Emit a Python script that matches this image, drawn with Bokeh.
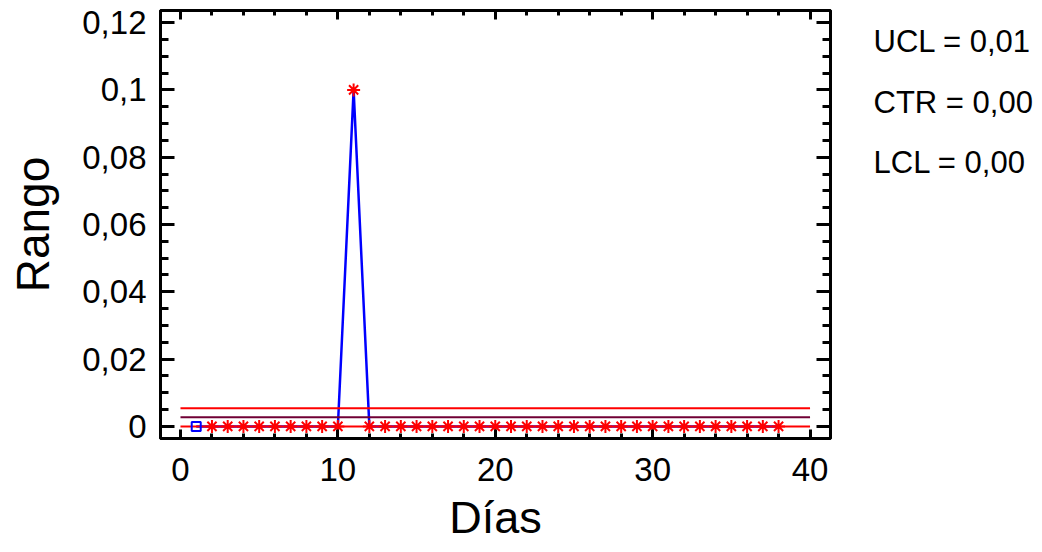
from bokeh.plotting import figure
from bokeh.layouts import row
from bokeh.models import LinearAxis, FixedTicker, CustomJSTickFormatter, Range1d, Title
from bokeh.core.properties import value
from bokeh.embed import file_html
from bokeh.resources import INLINE

# ---- data ----
days = list(range(1, 39))
ranges = [0, 0, 0, 0, 0, 0, 0, 0, 0, 0, 0.1, 0, 0, 0, 0, 0, 0, 0, 0, 0,
          0, 0, 0, 0, 0, 0, 0, 0, 0, 0, 0, 0, 0, 0, 0, 0, 0, 0]
limit_x = [0, 40]
ucl = 0.0054
ctr = 0.0027
lcl = 0.0
limit_texts = ["UCL = 0,01", "CTR = 0,00", "LCL = 0,00"]
x_title = "Días"
y_title = "Rango"
x_major = [0, 10, 20, 30, 40]
x_minor = list(range(0, 41, 2))
y_major = [0, 0.02, 0.04, 0.06, 0.08, 0.1, 0.12]
y_minor = [i * 0.005 for i in range(0, 25)]

FONT = "Liberation Sans"

p = figure(width=842, height=552, output_backend="svg", toolbar_location=None,
           x_range=Range1d(-1.27, 41.3), y_range=Range1d(-0.0036, 0.1236),
           min_border_left=160, min_border_right=12, min_border_top=10,
           min_border_bottom=114, x_axis_location=None, y_axis_location=None)
p.grid.visible = False
p.outline_line_color = "black"
p.outline_line_width = 3
p.background_fill_color = "white"
p.border_fill_color = "white"

fmt = CustomJSTickFormatter(code="return String(Math.round(tick*1000)/1000).replace('.', ',');")
blank = CustomJSTickFormatter(code="return '';")


def style(ax, major_in, minor_in):
    ax.axis_line_width = 3
    ax.axis_line_color = "black"
    ax.major_tick_in = major_in
    ax.major_tick_out = 0
    ax.minor_tick_in = minor_in
    ax.minor_tick_out = 0
    ax.major_tick_line_width = 3
    ax.minor_tick_line_width = 3
    ax.major_label_text_font = FONT
    ax.major_label_text_font_size = "33px"
    ax.major_label_text_color = "black"
    ax.axis_label_text_font = FONT
    ax.axis_label_text_font_size = "46px"
    ax.axis_label_text_font_style = "normal"
    ax.axis_label_text_color = "black"


xb = LinearAxis(ticker=FixedTicker(ticks=x_major, minor_ticks=x_minor), formatter=fmt)
style(xb, 9, 5)
xb.major_label_standoff = 19
p.add_layout(xb, "below")

# x-axis title stacked below the tick labels
p.add_layout(Title(text=x_title, align="center", text_font=FONT, text_font_size="45px",
                   text_font_style="normal", text_color="black", standoff=12,
                   text_line_height=0.7), "below")

xt = LinearAxis(ticker=FixedTicker(ticks=x_major, minor_ticks=x_minor), formatter=blank)
style(xt, 9, 5)
xt.major_label_text_font_size = "0px"
xt.major_label_standoff = 0
p.add_layout(xt, "above")

yl = LinearAxis(ticker=FixedTicker(ticks=y_major, minor_ticks=y_minor), formatter=fmt,
                axis_label=y_title)
style(yl, 14, 8)
yl.major_label_standoff = 14
yl.axis_label_standoff = 20
p.add_layout(yl, "left")

yr = LinearAxis(ticker=FixedTicker(ticks=y_major, minor_ticks=y_minor), formatter=blank)
style(yr, 14, 8)
yr.major_label_text_font_size = "0px"
yr.major_label_standoff = 0
p.add_layout(yr, "right")

# data line
p.line(days, ranges, line_color="blue", line_width=2.5)

# control limits
p.line(limit_x, [ucl, ucl], line_color="red", line_width=2)
p.line(limit_x, [ctr, ctr], line_color="#700035", line_width=2)
p.line(limit_x, [lcl, lcl], line_color="red", line_width=2)

# markers
p.scatter(days[:1], ranges[:1], marker="square", size=9, fill_color=None,
          line_color="blue", line_width=2)
p.scatter(days[1:], ranges[1:], marker="asterisk", size=13, line_color="red", line_width=2)

# side panel: frame spans canvas rows 10..438 (same as the chart frame), y downward
side = figure(width=200, height=552, output_backend="svg", toolbar_location=None,
              x_range=Range1d(0, 200), y_range=Range1d(438, 10),
              min_border_left=0, min_border_right=0, min_border_top=10,
              min_border_bottom=114, x_axis_location=None, y_axis_location=None)
side.grid.visible = False
side.outline_line_color = None
side.border_fill_color = "white"
side.background_fill_color = "white"
side.text(x=[31, 31, 31], y=[41, 102, 162], text=limit_texts,
          text_font=value(FONT), text_font_size="31px",
          text_baseline="middle", text_align="left", text_color="black")

layout = row(p, side, spacing=0)
open("out.html", "w").write(file_html(layout, INLINE))
